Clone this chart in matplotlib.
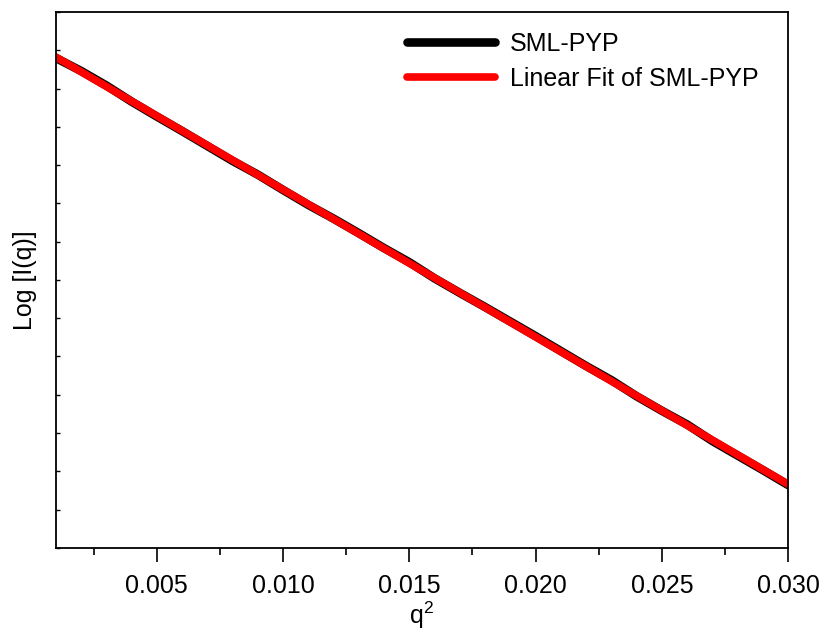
import matplotlib.pyplot as plt
import numpy as np
from matplotlib.ticker import MultipleLocator, NullFormatter

plt.rcParams["font.family"] = ["Liberation Sans", "DejaVu Sans"]

# SAXS Guinier-type data: q^2 vs Log[I(q)] (y units arbitrary, no labels shown)
q2 = [0.001, 0.002, 0.003, 0.004, 0.005, 0.006, 0.007, 0.008, 0.009, 0.010,
      0.011, 0.012, 0.013, 0.014, 0.015, 0.016, 0.017, 0.018, 0.019, 0.020,
      0.021, 0.022, 0.023, 0.024, 0.025, 0.026, 0.027, 0.028, 0.029, 0.030]
log_iq = [12.80, 12.46, 12.08, 11.66, 11.27, 10.89, 10.50, 10.11, 9.75, 9.35,
          8.96, 8.60, 8.22, 7.83, 7.46, 7.04, 6.66, 6.29, 5.91, 5.53,
          5.14, 4.75, 4.38, 3.96, 3.58, 3.22, 2.79, 2.41, 2.03, 1.64]
x_ticks = [0.005, 0.010, 0.015, 0.020, 0.025, 0.030]

q2 = np.array(q2)
log_iq = np.array(log_iq)
slope, intercept = np.polyfit(q2, log_iq, 1)
fit = intercept + slope * q2

fig = plt.figure(figsize=(8.21, 6.34), dpi=100)
ax = fig.add_axes([0.068, 0.136, 0.892, 0.845])

ax.plot(q2, log_iq, color="black", linewidth=6.2, label="SML-PYP", solid_capstyle="round")
ax.plot(q2, fit, color="#ff0000", linewidth=5.5, label="Linear Fit of SML-PYP",
        solid_capstyle="round")

ax.set_xlim(0.001, 0.030)
ax.set_ylim(0, 14)
ax.set_xticks(x_ticks)
ax.set_xticklabels([f"{t:.3f}" for t in x_ticks])
ax.xaxis.set_minor_locator(MultipleLocator(0.0025))
ax.yaxis.set_major_locator(MultipleLocator(1))
ax.yaxis.set_major_formatter(NullFormatter())

ax.tick_params(axis="x", which="major", direction="out", length=10, width=1.2,
               labelsize=18, pad=9)
ax.tick_params(axis="x", which="minor", direction="out", length=5, width=1.2)
ax.tick_params(axis="y", which="major", direction="in", length=3, width=1.0)
for sp in ax.spines.values():
    sp.set_linewidth(1.3)

ax.set_xlabel("q$^{\\mathregular{2}}$", fontsize=18, labelpad=1)
ax.set_ylabel("Log [I(q)]", fontsize=18, labelpad=10)

ax.legend(loc="upper right", bbox_to_anchor=(0.99, 1.005), frameon=False, fontsize=18,
          handlelength=3.5, handletextpad=0.6, labelspacing=0.45)

fig.savefig("out.png", dpi=100)
